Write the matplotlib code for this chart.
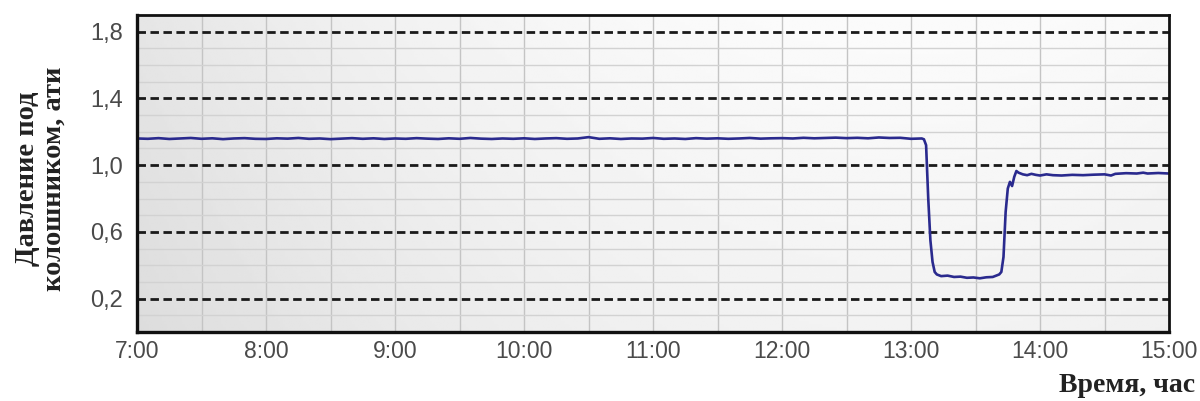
import numpy as np
import matplotlib
matplotlib.use("Agg")
import matplotlib.pyplot as plt

# ---- data (minutes after 7:00, pressure in ati) ----
seg1_minutes = list(range(0, 370, 5))  # 7:00 .. 13:05 every 5 min
seg1_values = [
    1.160, 1.158, 1.162, 1.157, 1.160, 1.163, 1.158, 1.161, 1.156, 1.160, 1.162, 1.158,
    1.157, 1.161, 1.159, 1.163, 1.158, 1.160, 1.156, 1.159, 1.162, 1.158, 1.161, 1.157,
    1.160, 1.158, 1.162, 1.159, 1.157, 1.161, 1.158, 1.163, 1.159, 1.157, 1.160, 1.158,
    1.161, 1.157, 1.160, 1.162, 1.158, 1.160, 1.168, 1.158, 1.161, 1.157, 1.160, 1.159,
    1.163, 1.158, 1.160, 1.157, 1.162, 1.159, 1.161, 1.158, 1.160, 1.163, 1.159, 1.161,
    1.162, 1.160, 1.164, 1.161, 1.163, 1.165, 1.162, 1.164, 1.161, 1.166, 1.163, 1.164,
    1.158, 1.160,
]
seg2_minutes = [366, 367, 368, 369, 370, 371, 372, 374, 377, 380, 383, 386, 389, 392,
                395, 398, 401, 402, 403, 404, 405, 406, 407, 408, 409, 410, 412, 414,
                416, 418, 420, 423, 426, 430, 435, 440, 445, 450, 453, 455, 460, 465,
                468, 470, 475, 480]
seg2_values = [1.155, 1.12, 0.80, 0.55, 0.42, 0.36, 0.345, 0.335, 0.338, 0.330, 0.332,
               0.325, 0.327, 0.322, 0.328, 0.330, 0.345, 0.36, 0.45, 0.72, 0.86, 0.90,
               0.875, 0.93, 0.965, 0.955, 0.945, 0.940, 0.948, 0.942, 0.938, 0.945,
               0.940, 0.938, 0.942, 0.940, 0.943, 0.945, 0.938, 0.948, 0.952, 0.950,
               0.955, 0.950, 0.953, 0.950]

x_ticks_min = [0, 60, 120, 180, 240, 300, 360, 420, 480]
x_tick_labels = ["7:00", "8:00", "9:00", "10:00", "11:00", "12:00", "13:00", "14:00", "15:00"]
y_ticks = [0.2, 0.6, 1.0, 1.4, 1.8]
y_tick_labels = ["0,2", "0,6", "1,0", "1,4", "1,8"]

minutes = np.array(seg1_minutes + seg2_minutes, dtype=float)
values = np.array(seg1_values + seg2_values)

fig = plt.figure(figsize=(12, 4.01), dpi=100)
ax = fig.add_axes([0.1142, 0.172, 0.8600, 0.7906])

# background gradient
nx, ny = 400, 100
gx = np.linspace(0, 1, nx)
gy = np.linspace(0, 1, ny)
GX, GY = np.meshgrid(gx, gy)
val = 0.985 - 0.085 * ((GX - 0.75) / 0.75) ** 2 - 0.035 * GY
val = np.clip(val, 0, 1)
ax.imshow(val, cmap="gray", vmin=0, vmax=1, extent=[0, 1, 0, 1],
          transform=ax.transAxes, aspect="auto", zorder=0, origin="upper")

ax.set_xlim(0, 480)
ax.set_ylim(0.0, 1.9)

# grid
for m in range(30, 480, 30):
    ax.axvline(m, color="#c4c4c4", lw=1.0, zorder=1)
for k in range(1, 19):
    yv = k / 10
    if any(abs(yv - t) < 1e-6 for t in y_ticks):
        continue
    ax.axhline(yv, color="#d2d2d2", lw=1.0, zorder=1)
for t in y_ticks:
    ax.axhline(t, color="#1a1a1a", lw=2.0, ls=(0, (3.05, 1.62)), zorder=2)

ax.plot(minutes, values, color="#2a2a8e", lw=1.9, zorder=3)

ax.set_xticks(x_ticks_min)
ax.set_xticklabels(x_tick_labels)
ax.set_yticks(y_ticks)
ax.set_yticklabels(y_tick_labels)
ax.tick_params(length=0, labelcolor="#4a4a4a")
ax.tick_params(axis="x", pad=6, labelsize=16.5)
ax.tick_params(axis="y", pad=10, labelsize=17)
for lab in ax.get_xticklabels() + ax.get_yticklabels():
    lab.set_family("Liberation Sans")

for side, s in ax.spines.items():
    s.set_linewidth(2.4 if side in ("left", "bottom") else 2.0)
    s.set_color("#111111")
    s.set_zorder(5)

fig.text(0.034, 0.553, "Давление под\nколошником, ати", rotation=90,
         ha="center", va="center", fontsize=20.5, fontweight="bold",
         family="Liberation Serif", color="#222222", linespacing=1.1)
fig.text(0.996, 0.038, "Время, час", ha="right", va="center", fontsize=20,
         fontweight="bold", family="Liberation Serif", color="#222222")

fig.savefig("out.png", dpi=100)
